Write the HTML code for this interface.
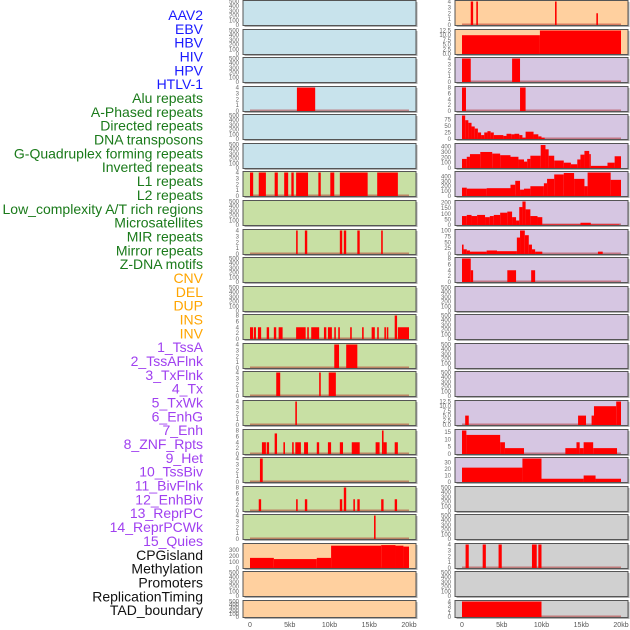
<!DOCTYPE html>
<html><head><meta charset="utf-8"><style>
html,body{margin:0;padding:0;background:#fff;width:630px;height:630px;overflow:hidden}
svg{display:block}
</style></head><body>
<svg id="chart" width="630" height="630" viewBox="0 0 630 630" xmlns="http://www.w3.org/2000/svg"></svg>
<script>
// ---- labels ----
const trackLabels = ["AAV2","EBV","HBV","HIV","HPV","HTLV-1","Alu repeats","A-Phased repeats","Directed repeats","DNA transposons","G-Quadruplex forming repeats","Inverted repeats","L1 repeats","L2 repeats","Low_complexity A/T rich regions","Microsatellites","MIR repeats","Mirror repeats","Z-DNA motifs","CNV","DEL","DUP","INS","INV","1_TssA","2_TssAFlnk","3_TxFlnk","4_Tx","5_TxWk","6_EnhG","7_Enh","8_ZNF_Rpts","9_Het","10_TssBiv","11_BivFlnk","12_EnhBiv","13_ReprPC","14_ReprPCWk","15_Quies","CPGisland","Methylation","Promoters","ReplicationTiming","TAD_boundary"];
const labelGroups = [6,13,5,15,5];
const xTicks = [0,5,10,15,20];
const xTickLabels = ["0","5kb","10kb","15kb","20kb"];
// ---- left column panels: [start_kb, end_kb, value] ----
const L3 = [[5.9,8.2,4]];
const L6 = [[0,0.4,4],[1.1,2.0,4],[3.1,3.5,4],[4.3,4.8,4],[5.2,5.5,4],[5.8,7.3,4],[8.6,8.9,4],[10.1,10.6,4],[11.3,14.8,4],[16.0,18.6,4]];
const L8 = [[5.8,6.0,4],[6.9,7.2,4],[11.3,11.6,4],[11.8,12.1,4],[13.5,13.8,4],[16.5,16.7,4]];
const L11 = [[0,0.4,4],[0.5,0.75,4],[1.0,1.4,4],[2.1,2.4,4],[3.0,3.3,4],[3.6,4.1,4],[5.8,7.0,4],[7.2,7.4,4],[7.7,8.7,4],[9.3,9.6,4],[9.8,10.3,4],[10.6,10.8,4],[11.1,11.3,4],[12.6,12.8,4],[14.1,14.3,4],[15.3,15.7,4],[16.0,16.2,4],[16.9,17.1,4],[17.2,17.4,4],[18.2,18.5,8],[18.6,20.0,4]];
const L12 = [[10.6,11.2,4],[12.1,13.5,4]];
const L13 = [[3.3,3.8,4],[8.7,8.9,4],[9.9,10.8,4]];
const L14 = [[5.7,5.9,4]];
const L15 = [[1.5,2.0,4],[2.1,2.4,4],[3.1,3.4,7],[4.2,4.4,4],[5.3,5.5,4],[5.7,6.4,4],[6.8,7.3,4],[8.4,8.7,4],[9.8,10.2,4],[11.3,11.7,4],[12.8,13.8,4],[15.8,16.3,4],[16.6,16.8,8],[16.8,17.2,4],[18.2,18.6,4]];
const L16 = [[1.25,1.6,4]];
const L17 = [[1.1,1.4,4],[5.8,6.0,4],[6.9,7.2,4],[11.3,11.6,4],[11.8,12.1,8],[13.0,13.2,4],[13.5,13.8,4],[16.5,16.8,4],[18.2,18.5,4]];
const L18 = [[15.6,15.8,4]];
const L19 = [[0,3,170],[3,8.4,150],[8.4,10.2,170],[10.2,16.5,375],[16.5,18.3,385],[18.3,19.3,375],[19.3,20,360]];
// ---- right column panels ----
const R0 = [[1.1,1.4,4],[1.8,2.0,4],[11.7,11.9,4],[16.9,17.1,2]];
const R1 = [[0,9.8,10],[9.8,20,12.5]];
const R2 = [[0,1.1,4],[6.3,7.3,4]];
const R3 = [[0,0.5,8],[7.3,8.0,8]];
const R4 = [[0,0.4,90],[0.4,0.8,72],[0.8,1.2,62],[1.2,1.6,48],[1.6,2.0,40],[2.0,2.4,25],[2.4,2.8,15],[2.8,3.2,25],[3.2,3.6,30],[3.6,4.0,25],[4.0,5.2,15],[5.2,5.6,12],[5.6,6.2,20],[6.2,6.6,18],[6.6,7.2,20],[7.2,7.6,15],[7.6,8.0,5],[8.0,9.0,28],[9.0,9.6,18],[9.6,10.0,10],[10.0,10.4,5]];
const R5 = [[0,0.6,170],[0.6,1.0,210],[1.0,2.3,260],[2.3,3.8,300],[3.8,4.8,270],[4.8,6.1,240],[6.1,7.1,210],[7.1,7.8,160],[7.8,8.2,120],[8.2,8.6,170],[8.6,9.9,230],[9.9,10.5,430],[10.5,10.9,350],[10.9,11.6,230],[11.6,12.8,140],[12.8,13.7,100],[13.7,14.5,70],[14.5,14.9,160],[14.9,15.4,250],[15.4,16.0,320],[16.0,16.2,260],[16.2,18.3,40],[18.3,19.2,100],[19.2,20,220]];
const R6 = [[0,0.6,170],[0.6,3.1,150],[3.1,6.1,160],[6.1,6.7,230],[6.7,7.3,310],[7.3,7.8,130],[7.8,8.6,150],[8.6,10.3,200],[10.3,10.7,260],[10.7,11.6,350],[11.6,12.8,440],[12.8,14.1,470],[14.1,15.4,350],[15.4,15.8,200],[15.8,18.7,480],[18.7,20,330]];
const R7 = [[0,0.6,80],[0.6,1.2,90],[1.2,1.9,80],[1.9,2.9,90],[2.9,3.5,70],[3.5,4.0,80],[4.0,4.8,90],[4.8,5.7,110],[5.7,6.3,120],[6.3,6.8,70],[6.8,7.2,40],[7.2,7.6,160],[7.6,8.0,210],[8.0,8.6,140],[8.6,9.5,80],[9.5,10.1,70],[10.1,14.9,5],[14.9,16.2,20],[16.2,19.8,5]];
const R8 = [[0,0.2,40],[0.2,0.6,20],[0.6,1.0,15],[1.0,3.1,10],[3.1,4.4,15],[4.4,6.9,12],[6.9,7.3,70],[7.3,7.9,100],[7.9,8.4,80],[8.4,8.8,40],[8.8,9.2,20],[9.2,10.1,10],[17.1,17.7,10]];
const R9 = [[0,1.1,8],[1.1,1.4,4],[5.7,6.8,4],[8.7,9.2,4]];
const R14 = [[0.4,0.85,5],[14.6,15.6,5],[16.3,16.6,5],[16.6,19.4,10],[19.4,20,12.5]];
const R15 = [[0,0.55,16],[0.55,4.8,13],[4.8,5.4,8],[5.4,7.8,4],[13.0,14.4,4],[14.4,14.8,8],[14.8,15.3,4],[15.3,16.5,8],[16.5,19.5,4]];
const R16 = [[0,7.6,22],[7.6,10.0,36],[10.0,15.3,5],[15.3,16.8,10],[16.8,20,5]];
const R19 = [[0.45,0.85,4],[2.6,3.0,4],[4.6,5.0,4],[8.8,9.4,4],[9.6,10.0,4]];
const R21 = [[0,10,4]];

const EMPTY_T = [0,100,200,300,400,500];
const C = {blue:"#c8e3ec",green:"#c8e0a4",orange:"#ffd09f",purple:"#d6c6e2",grey:"#d0d0d0"};
// column panels: [data, ymax, ticks, tickLabels(optional), colorKey]
const leftPanels = [
 [[],500,EMPTY_T,null,"blue"],[[],500,EMPTY_T,null,"blue"],[[],500,EMPTY_T,null,"blue"],
 [L3,4,[0,1,2,3,4],null,"blue"],[[],500,EMPTY_T,null,"blue"],[[],500,EMPTY_T,null,"blue"],
 [L6,4,[0,1,2,3,4],null,"green"],[[],500,EMPTY_T,null,"green"],[L8,4,[0,1,2,3,4],null,"green"],
 [[],500,EMPTY_T,null,"green"],[[],500,EMPTY_T,null,"green"],[L11,8,[0,2,4,6,8],null,"green"],
 [L12,4,[0,1,2,3,4],null,"green"],[L13,4,[0,1,2,3,4],null,"green"],[L14,4,[0,1,2,3,4],null,"green"],
 [L15,8,[0,2,4,6,8],null,"green"],[L16,4,[0,1,2,3,4],null,"green"],[L17,8,[0,2,4,6,8],null,"green"],
 [L18,4,[0,1,2,3,4],null,"green"],[L19,395,[0,100,200,300],null,"orange"],
 [[],500,EMPTY_T,null,"orange"],[[],500,EMPTY_T,null,"orange"]
];
const rightPanels = [
 [R0,4,[0,1,2,3,4],null,"orange"],[R1,12.5,[0,2.5,5,7.5,10,12.5],["0.0","2.5","5.0","7.5","10.0","12.5"],"orange"],
 [R2,4,[0,1,2,3,4],null,"purple"],[R3,8,[0,2,4,6,8],null,"purple"],[R4,90,[0,25,50,75],null,"purple"],
 [R5,440,[0,100,200,300,400],null,"purple"],[R6,480,[0,100,200,300,400],null,"purple"],
 [R7,210,[0,50,100,150,200],null,"purple"],[R8,100,[0,25,50,75,100],null,"purple"],
 [R9,8,[0,2,4,6,8],null,"purple"],[[],500,EMPTY_T,null,"purple"],[[],500,EMPTY_T,null,"purple"],
 [[],500,EMPTY_T,null,"purple"],[[],500,EMPTY_T,null,"purple"],
 [R14,12.5,[0,2.5,5,7.5,10,12.5],["0.0","2.5","5.0","7.5","10.0","12.5"],"purple"],
 [R15,16,[0,5,10,15],null,"purple"],[R16,36,[0,10,20,30],null,"purple"],
 [[],500,EMPTY_T,null,"grey"],[[],500,EMPTY_T,null,"grey"],[R19,4,[0,1,2,3,4],null,"grey"],
 [[],500,EMPTY_T,null,"grey"],[R21,4,[0,1,2,3,4],null,"grey"]
];

const NS="http://www.w3.org/2000/svg";
const svg=document.getElementById("chart");
function mk(tag,attrs,parent){const e=document.createElementNS(NS,tag);for(const k in attrs)e.setAttribute(k,attrs[k]);(parent||svg).appendChild(e);return e;}

// labels
const groupColors=["#1a1aff","#1a7a1a","#ffa500","#a040f0","#111111"];
let gi=0,cnt=0;
trackLabels.forEach((t,k)=>{
  while(cnt>=labelGroups[gi]){gi++;cnt=0;}
  cnt++;
  const e=mk("text",{x:203,y:15+k*13.84+5,"text-anchor":"end","font-family":"Liberation Sans, sans-serif","font-size":"14",fill:groupColors[gi]});
  
  
  e.textContent=t;
});

function drawColumn(panels,px,colName){
  const pw=173, x0=px+7, x1=px+166;
  const xs=kb=>x0+(x1-x0)*kb/20;
  panels.forEach((p,i)=>{
    const [data,ymax,ticks,tl,ck]=p;
    const top=Math.round(i*28.57)+0.5;
    const h=(i===21)?17:25;
    const g=mk("g",{});
    
    
    mk("rect",{x:px+1.5,y:top+1.5,width:pw,height:h,fill:"#b0b0b0"},g);
    mk("rect",{x:px,y:top,width:pw,height:h,fill:C[ck],stroke:"#555",
      "stroke-width":1},g);
    const yb=top+h-0.5, yt=top+1;
    const ys=v=>yb-(yb-yt)*v/ymax;
    if(data.length){
      const bl=mk("line",{x1:xs(0),x2:xs(20),y1:yb-0.8,y2:yb-0.8,stroke:"rgba(170,20,20,0.45)","stroke-width":1.5},g);
      
      
    }
    data.forEach(d=>{
      const r=mk("rect",{x:xs(d[0]),y:ys(d[2]),width:Math.max(1.2,xs(d[1])-xs(d[0])),height:yb-ys(d[2]),fill:"#ff0000"},g);
      
      
    });
    ticks.forEach((tv,j)=>{
      const t=mk("text",{x:px-4,y:ys(tv)+2,"text-anchor":"end","font-family":"Liberation Sans, sans-serif","font-size":"6",fill:"#666"},g);
      
      
      t.textContent=tl?tl[j]:String(tv);
    });
  });
  xTicks.forEach((v,j)=>{
    const t=mk("text",{x:xs(v),y:627,"text-anchor":"middle","font-family":"Liberation Sans, sans-serif","font-size":"7",fill:"#555"});
    
    
    t.textContent=xTickLabels[j];
  });
}
drawColumn(leftPanels,243,"left");
drawColumn(rightPanels,455,"right");
</script>
</body></html>
